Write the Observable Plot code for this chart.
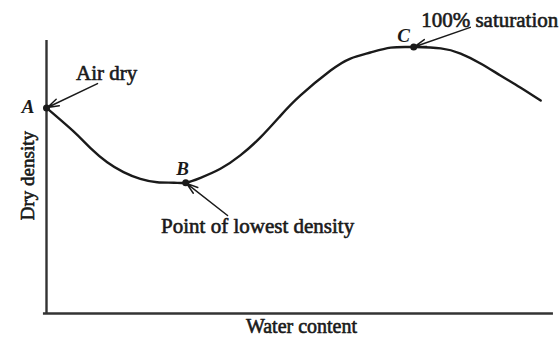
<!DOCTYPE html>
<html>
<head>
<meta charset="utf-8">
<script src="https://cdn.jsdelivr.net/npm/d3@7"></script>
<script src="https://cdn.jsdelivr.net/npm/@observablehq/plot@0.6"></script>
<style>
  html, body { margin: 0; padding: 0; background: #fff; }
  #chart svg { display: block; }
</style>
</head>
<body>
<div id="chart"></div>
<script>
// Curve: water content (arbitrary units) vs dry density (arbitrary units)
const waterContent = [0, 5.35, 8.63, 11.9, 15.1, 18.4, 21.7, 25.0, 27.3, 30.2, 34.1, 38.0, 42.0, 45.9, 49.8, 55.7, 59.6, 63.5, 67.5, 72.0, 77.3, 81.2, 85.1, 89.0, 92.9, 96.9];
const dryDensity   = [75.3, 66.6, 60.6, 55.4, 51.8, 49.3, 48.1, 47.9, 47.9, 49.7, 53.0, 57.9, 64.6, 72.5, 79.9, 89.0, 93.4, 95.6, 97.4, 97.6, 97.1, 95.2, 91.6, 87.2, 82.8, 78.0];

// Key points A, B, C
const pointLabels = ["A", "B", "C"];
const pointW = [0, 27.3, 72.0];
const pointD = [75.3, 47.9, 97.6];

// Letter label positions (data units)
const letterW = [-3.6, 26.7, 70.0];
const letterD = [75.5, 53.1, 101.8];

// Callouts: text, text position, arrow start
const calloutText = ["Air dry", "Point of lowest density", "100% saturation"];
const calloutW = [11.8, 41.4, 86.9];
const calloutD = [87.9, 31.9, 107.3];
const arrowFromW = [10.0, 35.5, 83.1];
const arrowFromD = [84.2, 35.9, 104.8];

const xLabel = "Water content";
const yLabel = "Dry density";

const curve = waterContent.map((w, i) => ({w, d: dryDensity[i]}));
const pts = pointLabels.map((k, i) => ({k, w: pointW[i], d: pointD[i], lw: letterW[i], ld: letterD[i]}));
const callouts = calloutText.map((t, i) => ({t, w: calloutW[i], d: calloutD[i], fw: arrowFromW[i], fd: arrowFromD[i], tw: pointW[i], td: pointD[i]}));

const font = "'Liberation Serif', 'Times New Roman', serif";
const ink = "#1a1a1a";

const chart = Plot.plot({
  width: 560,
  height: 337,
  marginLeft: 46,
  marginRight: 4,
  marginTop: 40,
  marginBottom: 24,
  x: {domain: [0, 100], axis: null},
  y: {domain: [0, 100], axis: null},
  style: {fontFamily: font, background: "#fff"},
  marks: [
    // axes
    Plot.ruleX([0], {y1: 0, y2: 100, stroke: "#333", strokeWidth: 2.4}),
    Plot.ruleY([0], {x1: -0.6, x2: 99.4, stroke: "#333", strokeWidth: 2.4}),
    // curve
    Plot.line(curve, {x: "w", y: "d", curve: "natural", stroke: ink, strokeWidth: 2.4}),
    // arrows
    Plot.arrow(callouts, {x1: "fw", y1: "fd", x2: "tw", y2: "td", stroke: ink, strokeWidth: 1.5, headLength: 12, headAngle: 35, insetEnd: 1}),
    // points
    Plot.dot(pts, {x: "w", y: "d", r: 3.5, fill: ink, stroke: "none"}),
    // letters
    Plot.text(pts, {x: "lw", y: "ld", text: "k", fontSize: 19, fontStyle: "italic", fontWeight: "bold", fill: ink}),
    // callout texts
    Plot.text(callouts, {x: "w", y: "d", text: "t", fontSize: 21, fill: ink, stroke: ink, strokeWidth: 0.6}),
    // axis labels
    Plot.text([xLabel], {x: 50.0, y: -4.8, text: d => d, fontSize: 20, fill: ink, stroke: ink, strokeWidth: 0.6}),
    Plot.text([yLabel], {x: -3.7, y: 50.5, text: d => d, rotate: -90, fontSize: 19, fill: ink, stroke: ink, strokeWidth: 0.6})
  ]
});
document.getElementById("chart").appendChild(chart);
</script>
</body>
</html>
